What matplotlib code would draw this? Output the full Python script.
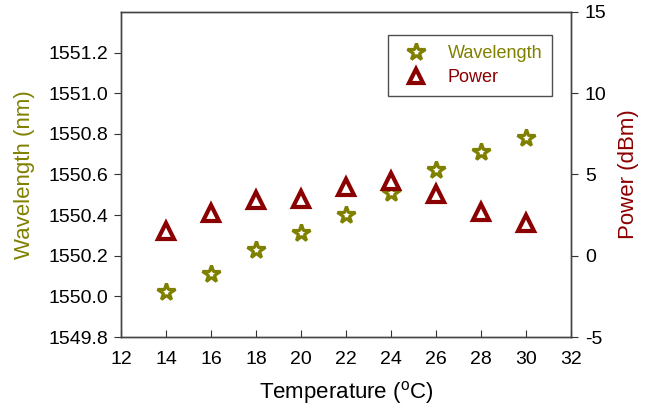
import matplotlib
matplotlib.use("Agg")
import matplotlib.pyplot as plt
from matplotlib.lines import Line2D

plt.rcParams['font.family'] = ['Liberation Sans', 'DejaVu Sans']
plt.rcParams['mathtext.fontset'] = 'custom'
plt.rcParams['mathtext.rm'] = 'Liberation Sans'

temperature = [14, 16, 18, 20, 22, 24, 26, 28, 30]
wavelength = [1550.02, 1550.11, 1550.23, 1550.31, 1550.40, 1550.51, 1550.62, 1550.71, 1550.78]
power = [1.5, 2.6, 3.4, 3.5, 4.2, 4.6, 3.8, 2.7, 2.0]

x_ticks = [12, 14, 16, 18, 20, 22, 24, 26, 28, 30, 32]
wl_ticks = [1549.8, 1550.0, 1550.2, 1550.4, 1550.6, 1550.8, 1551.0, 1551.2]
pw_ticks = [-5, 0, 5, 10, 15]

olive = '#808000'
dred = '#8b0000'

fig = plt.figure(figsize=(6.48, 4.09), dpi=100)
ax = fig.add_axes([0.187, 0.176, 0.694, 0.795])
ax2 = ax.twinx()

ax.plot(temperature, wavelength, linestyle='none', marker='*', markersize=13,
        markerfacecolor='white', markeredgecolor=olive, markeredgewidth=2.3, zorder=3)
ax2.plot(temperature, power, linestyle='none', marker='^', markersize=11,
         markerfacecolor='white', markeredgecolor=dred, markeredgewidth=3, zorder=3)

ax.set_xlim(12, 32)
ax.set_ylim(1549.8, 1551.4)
ax2.set_ylim(-5, 15)
ax.set_xticks(x_ticks)
ax.set_xticklabels([str(t) for t in x_ticks])
ax.set_yticks(wl_ticks)
ax.set_yticklabels([f'{v:.1f}' for v in wl_ticks])
ax2.set_yticks(pw_ticks)
ax2.set_yticklabels([str(v) for v in pw_ticks])

ax.tick_params(axis='x', direction='in', labelsize=14, length=5, pad=10, color='#333333')
ax.tick_params(axis='y', direction='out', labelsize=14, length=5, pad=4, color='#333333')
ax2.tick_params(axis='y', direction='out', labelsize=14, length=5, pad=5, color='#333333')

for a in (ax, ax2):
    for s in a.spines.values():
        s.set_color('#444444')
        s.set_linewidth(1.0)

ax.set_xlabel('Temperature ($\\mathregular{^{o}}$C)', fontsize=16, labelpad=8)
ax.set_ylabel('Wavelength (nm)', fontsize=16, color=olive, labelpad=10)
ax2.set_ylabel('Power (dBm)', fontsize=16, color=dred, labelpad=8)

handles = [
    Line2D([], [], linestyle='none', marker='*', markersize=13, markerfacecolor='white',
           markeredgecolor=olive, markeredgewidth=2.3),
    Line2D([], [], linestyle='none', marker='^', markersize=10, markerfacecolor='white',
           markeredgecolor=dred, markeredgewidth=3),
]
leg = ax2.legend(handles, ['Wavelength', 'Power'], loc='upper right',
                 bbox_to_anchor=(0.958, 0.929), fontsize=13, frameon=True,
                 fancybox=False, edgecolor='#222222', handletextpad=0.67,
                 handlelength=2.1, borderpad=0.55, labelspacing=0.4, borderaxespad=0)
leg.get_frame().set_linewidth(1.0)
for t, c in zip(leg.get_texts(), [olive, dred]):
    t.set_color(c)

fig.savefig('out.png', dpi=100)
